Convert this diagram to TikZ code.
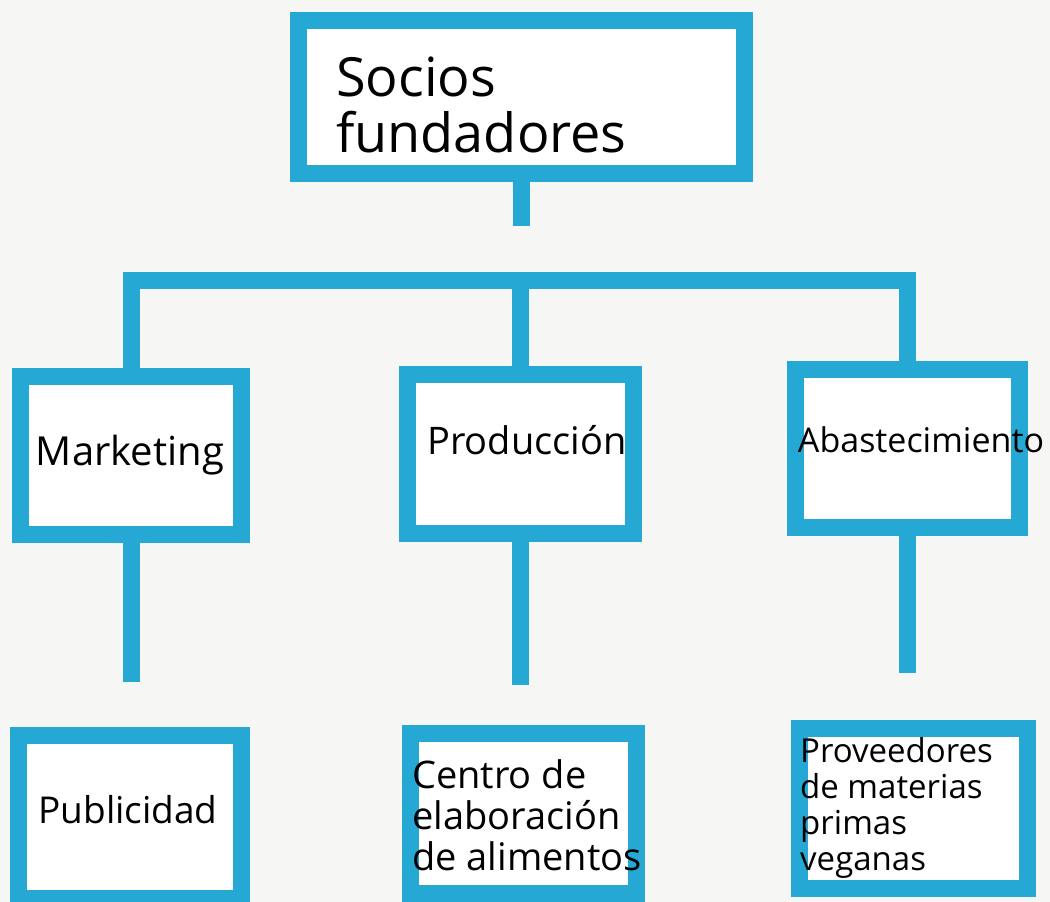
\documentclass[tikz,border=0pt]{standalone}
\usepackage{fontspec}
\setmainfont{Open Sans}
\usepackage{tikz}
\usetikzlibrary{positioning}
\definecolor{tape}{RGB}{38,168,212}
\definecolor{paper}{RGB}{246,246,244}

\begin{document}
\begin{tikzpicture}[x=1pt,y=-1pt,
  orgbox/.style={draw=tape, line width=17pt, fill=white, inner sep=0pt},
  stem/.style={draw=tape, line width=17pt, line join=miter},
  hand/.style={inner sep=0pt, align=center, font=\fontsize{38}{38}\selectfont}]
\useasboundingbox[fill=paper] (0,0) rectangle (1050,902);

\node (socios) at (521.5,97) [orgbox, minimum width=446pt, minimum height=153pt]{};
\node (marketing) at (131,455.5) [orgbox, minimum width=221pt, minimum height=158pt]{};
\node (produccion) at (520.5,454) [orgbox, minimum width=226pt, minimum height=159pt]{};
\node (abastecimiento) at (907.5,448.5) [orgbox, minimum width=224pt, minimum height=158pt]{};
\node (publicidad) at (130,817) [orgbox, minimum width=223pt, minimum height=163pt]{};
\node (centro) at (523.5,813.5) [orgbox, minimum width=226pt, minimum height=160pt]{};
\node (proveedores) at (913.5,808.5) [orgbox, minimum width=228pt, minimum height=160pt]{};

\coordinate (bar) at (520,280);

% connectors
\draw [stem, shorten >=54pt] (socios.south)--(socios.south |- bar);
\draw [stem] (marketing.north) |- (bar) -| (abastecimiento.north);
\draw [stem] (produccion.north)--(produccion.north |- bar);
\draw [stem, shorten >=45pt] (marketing.south)--(marketing.south |- publicidad.north);
\draw [stem, shorten >=40pt] (produccion.south)--(produccion.south |- centro.north);
\draw [stem, shorten >=47pt] (abastecimiento.south)--(abastecimiento.south |- proveedores.north);

% texts
\node (sociostxt) at (336,105) [hand, anchor=west, align=left, font=\fontsize{54}{56}\selectfont]{Socios\\fundadores};
\node (marketingtxt) at (130,455) [hand, font=\fontsize{40}{40}\selectfont]{Marketing};
\node (producciontxt) at (527,440) [hand]{Producción};
\node (abastecimientotxt) at (921,440) [hand, font=\fontsize{34}{34}\selectfont]{Abastecimiento};
\node (publicidadtxt) at (128,810) [hand, font=\fontsize{37}{37}\selectfont]{Publicidad};
\node (centrotxt) at (412,815) [hand, anchor=west, align=left, font=\fontsize{38}{41}\selectfont]{Centro de\\elaboración\\de alimentos};
\node (proveedorestxt) at (800,808) [hand, anchor=west, align=left, font=\fontsize{33}{36}\selectfont]{Proveedores\\de materias\\primas\\veganas};

\end{tikzpicture}
\end{document}
